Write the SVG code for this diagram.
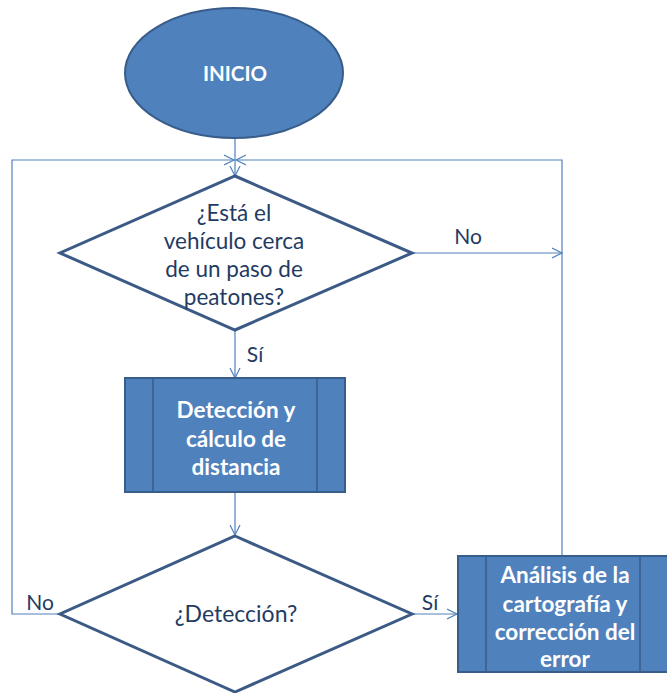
<svg xmlns="http://www.w3.org/2000/svg" width="667" height="693" viewBox="0 0 667 693">
<style>
.conn{fill:none;stroke:#4F81BD;stroke-width:1.2}
.blue{fill:#4F81BD;stroke:#385D8A;stroke-width:2}
.div{stroke:#385D8A;stroke-width:1.5}
.dia{fill:#FFFFFF;stroke:#3B5A85;stroke-width:3}
.wt{font-family:Lato,"Open Sans",sans-serif;font-weight:bold;fill:#FFFFFF;text-anchor:middle}
.dt{font-family:Lato,"Open Sans",sans-serif;fill:#1F3B63;text-anchor:middle}
</style>
<defs>
<marker id="arr" markerWidth="12" markerHeight="12" refX="10" refY="5" orient="auto" markerUnits="userSpaceOnUse" viewBox="0 0 12 10">
<polyline points="0,0 10,5 0,10" fill="none" stroke="#4F81BD" stroke-width="1.2"/>
</marker>
</defs>
<rect width="667" height="693" fill="#FFFFFF"/>
<g id="connectors">
<line class="conn" x1="235" y1="138" x2="235" y2="176" marker-end="url(#arr)"/>
<polyline class="conn" points="60,614 12,614 12,160 234,160" marker-end="url(#arr)"/>
<polyline class="conn" points="562,556 562,160 236,160" marker-end="url(#arr)"/>
<line class="conn" x1="412" y1="253" x2="562" y2="253" marker-end="url(#arr)"/>
<line class="conn" x1="235" y1="330" x2="235" y2="378" marker-end="url(#arr)"/>
<line class="conn" x1="235" y1="492" x2="235" y2="535" marker-end="url(#arr)"/>
<line class="conn" x1="412" y1="614" x2="457" y2="614" marker-end="url(#arr)"/>
<text class="dt" x="468" y="244" font-size="21">No</text>
<text class="dt" x="255" y="362" font-size="21">Sí</text>
<text class="dt" x="40" y="610" font-size="21">No</text>
<text class="dt" x="430" y="610" font-size="21">Sí</text>
</g>
<g id="inicio">
<ellipse class="blue" cx="234" cy="73" rx="109" ry="65"/>
<text class="wt" x="235" y="81" font-size="20.5">INICIO</text>
</g>
<g id="decision1">
<polygon class="dia" points="235,176 412,253 235,330 60,253"/>
<text class="dt" font-size="22.5"><tspan x="234" y="221">¿Está el</tspan><tspan x="234" y="249">vehículo cerca</tspan><tspan x="234" y="277">de un paso de</tspan><tspan x="234" y="305">peatones?</tspan></text>
</g>
<g id="deteccion">
<rect class="blue" x="125" y="378" width="220" height="114"/>
<line class="div" x1="153" y1="379" x2="153" y2="491"/>
<line class="div" x1="317" y1="379" x2="317" y2="491"/>
<text class="wt" font-size="22.5"><tspan x="236" y="418">Detección y</tspan><tspan x="236" y="447">cálculo de</tspan><tspan x="236" y="475">distancia</tspan></text>
</g>
<g id="decision2">
<polygon class="dia" points="235,536 412,614 235,692 60,614"/>
<text class="dt" x="236" y="622" font-size="23">¿Detección?</text>
</g>
<g id="analisis">
<rect class="blue" x="458" y="556" width="215" height="116"/>
<line class="div" x1="486" y1="557" x2="486" y2="671"/>
<line class="div" x1="640" y1="557" x2="640" y2="671"/>
<text class="wt" font-size="22.5"><tspan x="565" y="583">Análisis de la</tspan><tspan x="565" y="612">cartografía y</tspan><tspan x="565" y="640">corrección del</tspan><tspan x="565" y="667">error</tspan></text>
</g>
</svg>
